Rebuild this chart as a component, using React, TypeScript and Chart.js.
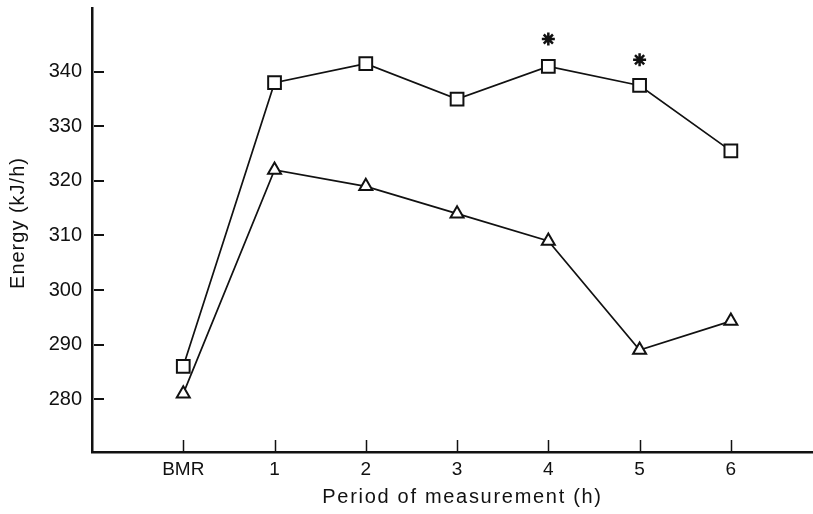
import React, { useEffect, useRef } from 'react';
import { Chart, registerables } from 'chart.js';

Chart.register(...registerables);

const categories = ['BMR', '1', '2', '3', '4', '5', '6'];
const squareValues = [286, 338, 341.5, 335, 341, 337.5, 325.5];
const triangleValues = [281, 322, 319, 314, 309, 289, 294.3];
const asteriskCategories = ['4', '5'];
const asteriskValues = [346, 342.2];
const yTickValues = [280, 290, 300, 310, 320, 330, 340];
const xTitle = 'Period of measurement (h)';
const yTitle = 'Energy (kJ/h)';

const FONT = "'Liberation Sans', Arial, sans-serif";

const innerTicksAndTitles = {
  id: 'innerTicksAndTitles',
  afterDraw(chart: any) {
    const { ctx, chartArea, scales } = chart;
    ctx.save();
    ctx.strokeStyle = '#111';
    ctx.lineWidth = 2;
    ctx.beginPath();
    for (const v of yTickValues) {
      const y = Math.round(scales.y.getPixelForValue(v));
      ctx.moveTo(chartArea.left + 2, y);
      ctx.lineTo(chartArea.left + 12, y);
    }
    ctx.stroke();
    ctx.lineWidth = 1.5;
    ctx.beginPath();
    for (let i = 0; i < categories.length; i++) {
      const x = Math.round(scales.x.getPixelForValue(i)) + 0.5;
      ctx.moveTo(x, chartArea.bottom - 12);
      ctx.lineTo(x, chartArea.bottom - 1);
    }
    ctx.stroke();
    ctx.fillStyle = '#111';
    ctx.font = `20px ${FONT}`;
    ctx.textAlign = 'center';
    ctx.textBaseline = 'middle';
    // x axis title
    (ctx as any).letterSpacing = '1.7px';
    ctx.fillText(xTitle, (chartArea.left + chartArea.right) / 2 + 10, scales.x.bottom - 17);
    // y axis title
    (ctx as any).letterSpacing = '1px';
    ctx.translate(18, (chartArea.top + chartArea.bottom) / 2 - 7);
    ctx.rotate(-Math.PI / 2);
    ctx.fillText(yTitle, 0, 0);
    ctx.restore();
  },
};

export default function App() {
  const ref = useRef<HTMLCanvasElement | null>(null);
  useEffect(() => {
    if (!ref.current) return;
    const idx = (c: string) => categories.indexOf(c);
    const chart = new Chart(ref.current, {
      type: 'line',
      data: {
        datasets: [
          {
            data: squareValues.map((v, i) => ({ x: i, y: v })),
            borderColor: '#111',
            borderWidth: 1.7,
            pointStyle: 'rect',
            pointRadius: 9,
            pointBorderWidth: 2,
            pointBackgroundColor: '#fff',
            pointBorderColor: '#111',
            tension: 0,
          },
          {
            data: triangleValues.map((v, i) => ({ x: i, y: v })),
            borderColor: '#111',
            borderWidth: 1.7,
            pointStyle: 'triangle',
            pointRadius: 7.5,
            pointBorderWidth: 2,
            pointBackgroundColor: '#fff',
            pointBorderColor: '#111',
            tension: 0,
          },
          {
            data: asteriskCategories.map((c, i) => ({ x: idx(c), y: asteriskValues[i] })),
            showLine: false,
            pointStyle: 'star',
            pointRadius: 6.5,
            pointBorderWidth: 2.5,
            pointBorderColor: '#111',
            pointBackgroundColor: '#111',
          },
        ],
      },
      options: {
        responsive: false,
        animation: false,
        layout: { autoPadding: false, padding: { top: 8, right: 0, bottom: 0, left: 0 } },
        plugins: { legend: { display: false }, tooltip: { enabled: false } },
        scales: {
          x: {
            type: 'linear',
            min: -1,
            max: 6.9,
            afterBuildTicks: (scale: any) => {
              scale.ticks = categories.map((_, i) => ({ value: i }));
            },
            afterFit: (scale: any) => {
              scale.height = 62;
              scale.paddingLeft = 0;
              scale.paddingRight = 0;
            },
            ticks: {
              color: '#111',
              font: { family: FONT, size: 19 },
              padding: 6,
              maxRotation: 0,
              autoSkip: false,
              callback: (v: any) => categories[v] ?? '',
            },
            grid: { display: false, drawTicks: false },
            border: { display: true, color: '#111', width: 2.5 },
            title: { display: false },
          },
          y: {
            type: 'linear',
            min: 270.3,
            max: 351.7,
            afterBuildTicks: (scale: any) => {
              scale.ticks = yTickValues.map((v) => ({ value: v }));
            },
            afterFit: (scale: any) => {
              scale.width = 92;
              scale.paddingTop = 0;
              scale.paddingBottom = 0;
            },
            ticks: {
              color: '#111',
              font: { family: FONT, size: 20 },
              padding: 10,
            },
            grid: { display: false, drawTicks: false },
            border: { display: true, color: '#111', width: 2.5 },
            title: { display: false },
          },
        },
      },
      plugins: [innerTicksAndTitles],
    } as any);
    return () => chart.destroy();
  }, []);
  return (
    <div style={{ position: 'absolute', left: 0, top: 0, width: 813, height: 514, background: '#fff' }}>
      <canvas ref={ref} width={813} height={514} />
    </div>
  );
}
